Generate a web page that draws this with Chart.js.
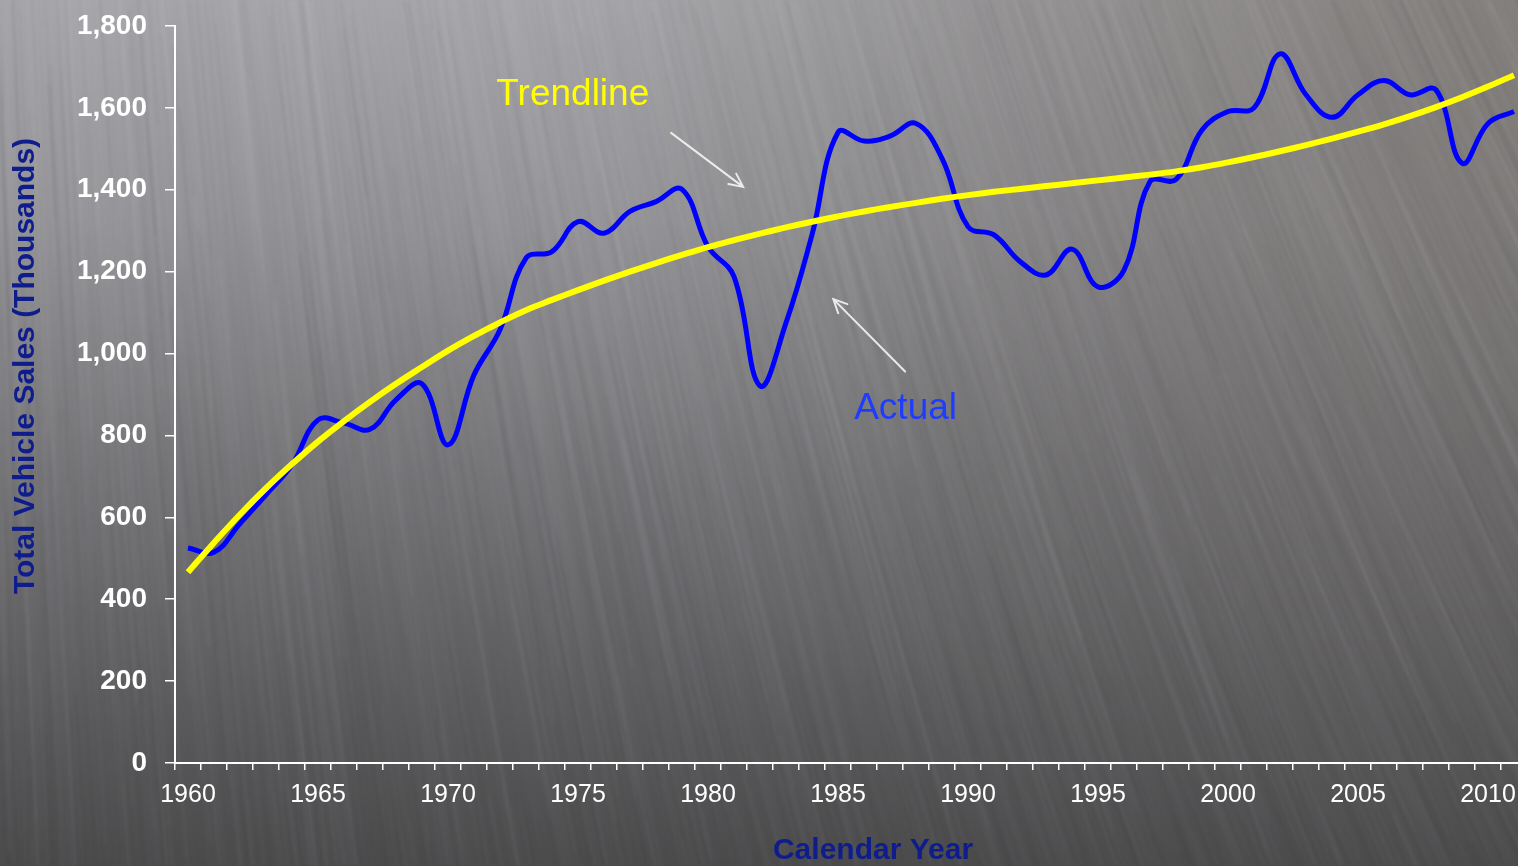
<!DOCTYPE html>
<html>
<head>
<meta charset="utf-8">
<title>Total Vehicle Sales</title>
<script src="https://cdn.jsdelivr.net/npm/chart.js"></script>
<style>
  html, body { margin: 0; padding: 0; overflow: hidden; background: #6e6e70; }
  #wrap { position: relative; width: 1532px; height: 866px; }
</style>
</head>
<body>
<div id="wrap"><canvas id="chart"></canvas></div>
<script>
// Calendar years on the category axis
const years = ['1960','1961','1962','1963','1964','1965','1966','1967','1968','1969',
               '1970','1971','1972','1973','1974','1975','1976','1977','1978','1979',
               '1980','1981','1982','1983','1984','1985','1986','1987','1988','1989',
               '1990','1991','1992','1993','1994','1995','1996','1997','1998','1999',
               '2000','2001','2002','2003','2004','2005','2006','2007','2008','2009',
               '2010','2011'];

// Years that carry a printed tick label
const labelledYears = ['1960','1965','1970','1975','1980','1985','1990','1995','2000','2005','2010'];

// Total vehicle sales, thousands
const actualSales = [525, 515, 585, 655, 728, 838, 830, 815, 887, 926,
                     777, 948, 1058, 1233, 1249, 1322, 1294, 1347, 1371, 1401,
                     1261, 1188, 921, 1075, 1290, 1540, 1519, 1531, 1562, 1477,
                     1310, 1290, 1225, 1192, 1255, 1163, 1204, 1420, 1425, 1546,
                     1591, 1600, 1732, 1632, 1577, 1632, 1667, 1632, 1644, 1465,
                     1562, 1591];

// Fitted trend, thousands
const trendSales = [466, 538, 607, 671, 730, 785, 835, 882, 926, 967,
                    1007, 1043, 1076, 1106, 1131, 1155, 1178, 1200, 1221, 1241,
                    1260, 1277, 1293, 1308, 1322, 1335, 1347, 1358, 1368, 1378,
                    1387, 1395, 1402, 1409, 1416, 1423, 1430, 1437, 1445, 1455,
                    1467, 1480, 1494, 1509, 1525, 1542, 1560, 1580, 1602, 1626,
                    1652, 1680];

// Value-axis ticks
const yTicks = [0, 200, 400, 600, 800, 1000, 1200, 1400, 1600, 1800];

const FONT = "'Liberation Sans', Arial, Helvetica, sans-serif";
const NAVY = '#0f1d8c';

// Small deterministic generator for the brushed-metal backdrop
function mulberry32(a) {
  return function () {
    a |= 0; a = a + 0x6D2B79F5 | 0;
    let t = Math.imul(a ^ a >>> 15, 1 | a);
    t = t + Math.imul(t ^ t >>> 7, 61 | t) ^ t;
    return ((t ^ t >>> 14) >>> 0) / 4294967296;
  };
}

let backdropCache = null;

function buildBackdrop(W, H) {
  const base = document.createElement('canvas');
  base.width = W; base.height = H;
  const ctx = base.getContext('2d');

  const g = ctx.createLinearGradient(0, 0, 0, H);
  g.addColorStop(0, '#a6a6aa');
  g.addColorStop(0.25, '#949498');
  g.addColorStop(0.55, '#747477');
  g.addColorStop(0.8, '#5c5c5e');
  g.addColorStop(1, '#4a4a4b');
  ctx.fillStyle = g;
  ctx.fillRect(0, 0, W, H);

  // warmer, darker cast toward the upper right
  const r = ctx.createRadialGradient(W, 0, 0, W, 0, 950);
  r.addColorStop(0, 'rgba(80,70,58,0.42)');
  r.addColorStop(1, 'rgba(80,70,58,0)');
  ctx.fillStyle = r;
  ctx.fillRect(0, 0, W, H);

  // brushed streaks, nearly vertical on the left and leaning on the right
  const streaks = document.createElement('canvas');
  streaks.width = W; streaks.height = H;
  const s = streaks.getContext('2d');
  const rnd = mulberry32(1960);
  s.lineCap = 'round';
  for (let i = 0; i < 5000; i++) {
    const x = rnd() * (W + 450) - 400;
    const y = rnd() * (H + 400) - 350;
    const len = 200 + rnd() * 500;
    const ang = (2 + (Math.max(0, x) / W) * 26) * Math.PI / 180;
    const light = rnd() < 0.65;
    const fade = 1 - 0.5 * Math.max(0, Math.min(1, y / H));
    const a = (0.01 + rnd() * 0.04) * fade;
    s.strokeStyle = light ? `rgba(236,236,240,${a})` : `rgba(30,30,32,${a})`;
    s.lineWidth = 0.8 + rnd() * 2.4;
    s.beginPath();
    s.moveTo(x, y);
    s.lineTo(x + Math.sin(ang) * len, y + Math.cos(ang) * len);
    s.stroke();
  }
  ctx.filter = 'blur(1.8px)';
  ctx.drawImage(streaks, 0, 0);
  ctx.filter = 'none';
  return base;
}

const backdropPlugin = {
  id: 'backdrop',
  beforeDraw(chart) {
    if (!backdropCache || backdropCache.width !== chart.width || backdropCache.height !== chart.height) {
      backdropCache = buildBackdrop(chart.width, chart.height);
    }
    chart.ctx.drawImage(backdropCache, 0, 0);
  }
};

function arrow(ctx, x1, y1, x2, y2) {
  const ang = Math.atan2(y2 - y1, x2 - x1);
  const head = 15, spread = 0.45;
  ctx.beginPath();
  ctx.moveTo(x1, y1);
  ctx.lineTo(x2, y2);
  ctx.moveTo(x2 - head * Math.cos(ang - spread), y2 - head * Math.sin(ang - spread));
  ctx.lineTo(x2, y2);
  ctx.lineTo(x2 - head * Math.cos(ang + spread), y2 - head * Math.sin(ang + spread));
  ctx.stroke();
}

// Callouts and axis titles, placed through the chart's own scales
const calloutPlugin = {
  id: 'callouts',
  afterDraw(chart, args, opts) {
    const { ctx, scales: { x, y } } = chart;
    ctx.save();
    ctx.strokeStyle = 'rgba(242,242,242,0.92)';
    ctx.lineWidth = 2;
    ctx.lineCap = 'round';
    for (const a of opts.arrows) {
      arrow(ctx, x.getPixelForValue(a.from[0]), y.getPixelForValue(a.from[1]),
                 x.getPixelForValue(a.to[0]), y.getPixelForValue(a.to[1]));
    }
    ctx.textAlign = 'center';
    ctx.textBaseline = 'alphabetic';
    for (const t of opts.texts) {
      ctx.font = `37px ${FONT}`;
      ctx.fillStyle = t.color;
      ctx.fillText(t.text, x.getPixelForValue(t.at[0]), y.getPixelForValue(t.at[1]));
    }

    // axis titles
    ctx.fillStyle = NAVY;
    ctx.font = `bold 30px ${FONT}`;
    ctx.textBaseline = 'middle';
    ctx.fillText(opts.xTitle, 873, 851);
    ctx.translate(26, 366);
    ctx.rotate(-Math.PI / 2);
    ctx.fillText(opts.yTitle, 0, 0);
    ctx.restore();
  }
};

new Chart(document.getElementById('chart'), {
  type: 'line',
  data: {
    labels: years,
    datasets: [
      {
        label: 'Trendline',
        data: trendSales,
        borderColor: '#ffff00',
        borderWidth: 6,
        pointRadius: 0,
        tension: 0.4,
        fill: false
      },
      {
        label: 'Actual',
        data: actualSales,
        borderColor: '#0000ff',
        borderWidth: 5,
        pointRadius: 0,
        tension: 0.4,
        fill: false
      }
    ]
  },
  options: {
    responsive: true,
    maintainAspectRatio: false,
    animation: false,
    devicePixelRatio: 1,
    layout: { padding: { left: 0, top: 26, right: 5, bottom: 0 } },
    plugins: {
      legend: { display: false },
      tooltip: { enabled: false },
      callouts: {
        xTitle: 'Calendar Year',
        yTitle: 'Total Vehicle Sales (Thousands)',
        arrows: [
          { from: [18.58, 1539], to: [21.35, 1407] },
          { from: [27.58, 956], to: [24.82, 1133] }
        ],
        texts: [
          { text: 'Trendline', at: [14.8, 1607], color: '#ffff00' },
          { text: 'Actual', at: [27.6, 840], color: '#1e3cff' }
        ]
      }
    },
    scales: {
      x: {
        type: 'category',
        offset: true,
        grid: {
          offset: true,
          drawOnChartArea: false,
          drawTicks: true,
          tickLength: 7,
          color: '#ffffff',
          lineWidth: 1.5
        },
        border: { display: true, color: '#ffffff', width: 2 },
        ticks: {
          autoSkip: false,
          maxRotation: 0,
          minRotation: 0,
          color: '#ffffff',
          padding: 10,
          font: { family: FONT, size: 25 },
          callback: function (value, index) {
            const yr = years[index];
            return labelledYears.includes(yr) ? yr : '';
          }
        },
        afterFit: function (scale) {
          scale.height = 103;
          scale.paddingLeft = 0;
          scale.paddingRight = 0;
        }
      },
      y: {
        min: 0,
        max: 1800,
        grid: {
          drawOnChartArea: false,
          drawTicks: true,
          tickLength: 10,
          color: '#ffffff',
          lineWidth: 1.5
        },
        border: { display: true, color: '#ffffff', width: 2 },
        ticks: {
          color: '#ffffff',
          padding: 18,
          font: { family: FONT, size: 28, weight: 'bold' },
          callback: function (value) { return value.toLocaleString('en-US'); }
        },
        afterBuildTicks: function (scale) {
          scale.ticks = yTicks.map(v => ({ value: v }));
        },
        afterFit: function (scale) {
          scale.width = 175;
          scale.paddingTop = 0;
          scale.paddingBottom = 0;
        }
      }
    }
  },
  plugins: [backdropPlugin, calloutPlugin]
});
</script>
</body>
</html>
